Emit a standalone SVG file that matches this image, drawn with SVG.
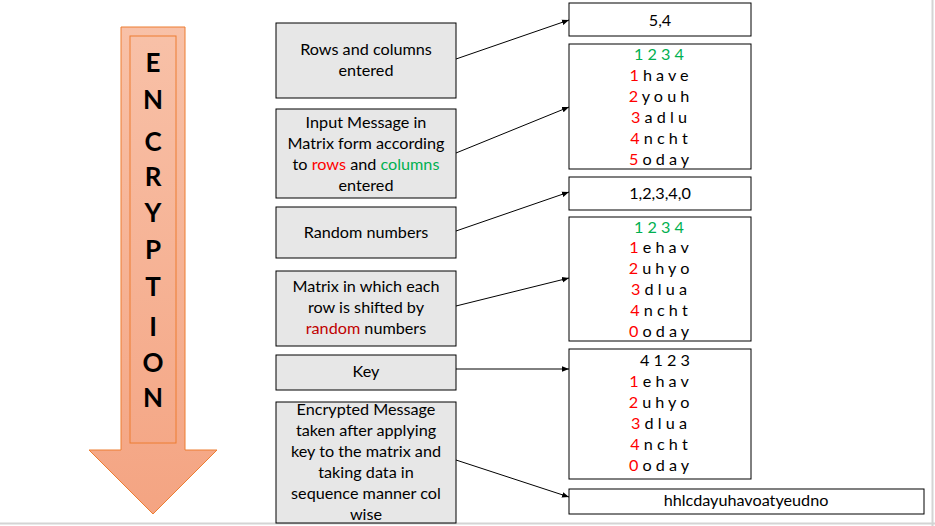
<svg xmlns="http://www.w3.org/2000/svg" width="935" height="526" viewBox="0 0 935 526">
<defs>
<linearGradient id="ag" x1="0" y1="0" x2="0" y2="1">
<stop offset="0" stop-color="#f8c1a8"/>
<stop offset="1" stop-color="#f4a482"/>
</linearGradient>
<marker id="ah" viewBox="0 0 10 10" refX="10" refY="5" markerWidth="7" markerHeight="7" markerUnits="userSpaceOnUse" orient="auto">
<path d="M0,1 L10,5 L0,9 z" fill="#000"/>
</marker>
</defs>
<style>
.box{fill:#e7e7e7;stroke:#000;stroke-width:1}
.rbox{fill:#fff;stroke:#000;stroke-width:1}
text{font-family:Lato,"Open Sans","Liberation Sans",sans-serif;font-size:16.2px;fill:#000;text-anchor:middle}
.big{font-size:26px;font-weight:bold}
.r{fill:#ff0000}
.g{fill:#00b050}
.dr{fill:#c00000}
.con line{stroke:#000;stroke-width:1;marker-end:url(#ah)}
</style>
<rect width="935" height="526" fill="#fff"/>
<line x1="932.5" y1="0" x2="932.5" y2="526" stroke="#d4d4d4" stroke-width="2"/>
<line x1="0" y1="523.5" x2="935" y2="523.5" stroke="#d4d4d4" stroke-width="2"/>

<g id="encryption-arrow">
<path d="M121,27 H185 V450 H217 L153,514 L89,450 H121 Z" fill="url(#ag)" stroke="#ed7d31" stroke-width="1"/>
<rect x="130" y="36" width="46" height="407" fill="none" stroke="#ed7d31" stroke-width="1"/>
<text class="big" x="153" y="72">E</text>
<text class="big" x="153" y="109">N</text>
<text class="big" x="153" y="151">C</text>
<text class="big" x="153" y="186">R</text>
<text class="big" x="153" y="222">Y</text>
<text class="big" x="153" y="259">P</text>
<text class="big" x="153" y="296">T</text>
<text class="big" x="153" y="336">I</text>
<text class="big" x="153" y="372">O</text>
<text class="big" x="153" y="407">N</text>
</g>

<g id="rows-cols">
<rect class="box" x="276" y="23" width="180" height="75"/>
<text x="366" y="55">Rows and columns</text>
<text x="366" y="76">entered</text>
</g>
<g id="input-matrix">
<rect class="box" x="276" y="109" width="180" height="89"/>
<text x="366" y="128">Input Message in</text>
<text x="366" y="149">Matrix form according</text>
<text x="366" y="170">to <tspan class="r">rows</tspan> and <tspan class="g">columns</tspan></text>
<text x="366" y="191">entered</text>
</g>
<g id="random-numbers">
<rect class="box" x="276" y="207" width="180" height="51"/>
<text x="366" y="238">Random numbers</text>
</g>
<g id="shifted-matrix">
<rect class="box" x="276" y="271" width="180" height="75"/>
<text x="366" y="292">Matrix in which each</text>
<text x="366" y="313">row is shifted by</text>
<text x="366" y="334"><tspan class="dr">random</tspan> numbers</text>
</g>
<g id="key">
<rect class="box" x="276" y="355" width="180" height="35"/>
<text x="366" y="377">Key</text>
</g>
<g id="encrypted-message">
<rect class="box" x="276" y="402" width="180" height="121"/>
<text x="366" y="415">Encrypted Message</text>
<text x="366" y="436">taken after applying</text>
<text x="366" y="457">key to the matrix and</text>
<text x="366" y="478">taking data in</text>
<text x="366" y="499">sequence manner col</text>
<text x="366" y="520">wise</text>
</g>

<g id="val-rows-cols">
<rect class="rbox" x="569" y="3" width="182" height="33"/>
<text x="660" y="26">5,4</text>
</g>
<g id="val-input-matrix">
<rect class="rbox" x="569" y="44" width="182" height="125"/>
<text class="g" x="659" y="60">1 2 3 4</text>
<text x="659" y="81"><tspan class="r">1</tspan> h a v e</text>
<text x="659" y="102"><tspan class="r">2</tspan> y o u h</text>
<text x="659" y="123"><tspan class="r">3</tspan> a d l u</text>
<text x="659" y="144"><tspan class="r">4</tspan> n c h t</text>
<text x="659" y="165"><tspan class="r">5</tspan> o d a y</text>
</g>
<g id="val-random">
<rect class="rbox" x="569" y="177" width="182" height="33"/>
<text x="660" y="199">1,2,3,4,0</text>
</g>
<g id="val-shifted">
<rect class="rbox" x="569" y="217" width="182" height="124"/>
<text class="g" x="659" y="233">1 2 3 4</text>
<text x="659" y="253"><tspan class="r">1</tspan> e h a v</text>
<text x="659" y="274"><tspan class="r">2</tspan> u h y o</text>
<text x="659" y="295"><tspan class="r">3</tspan> d l u a</text>
<text x="659" y="316"><tspan class="r">4</tspan> n c h t</text>
<text x="659" y="337"><tspan class="r">0</tspan> o d a y</text>
</g>
<g id="val-key">
<rect class="rbox" x="569" y="349" width="182" height="130"/>
<text x="665" y="366">4 1 2 3</text>
<text x="659" y="387"><tspan class="r">1</tspan> e h a v</text>
<text x="659" y="408"><tspan class="r">2</tspan> u h y o</text>
<text x="659" y="429"><tspan class="r">3</tspan> d l u a</text>
<text x="659" y="450"><tspan class="r">4</tspan> n c h t</text>
<text x="659" y="471"><tspan class="r">0</tspan> o d a y</text>
</g>
<g id="val-encrypted">
<rect class="rbox" x="569" y="489" width="355" height="25"/>
<text x="746" y="506">hhlcdayuhavoatyeudno</text>
</g>

<g class="con" id="connectors">
<line x1="456" y1="59" x2="569" y2="20"/>
<line x1="456" y1="153" x2="569" y2="107"/>
<line x1="456" y1="231" x2="569" y2="192"/>
<line x1="456" y1="306" x2="569" y2="278"/>
<line x1="456" y1="369" x2="569" y2="369"/>
<line x1="456" y1="460" x2="569" y2="497"/>
</g>
</svg>
